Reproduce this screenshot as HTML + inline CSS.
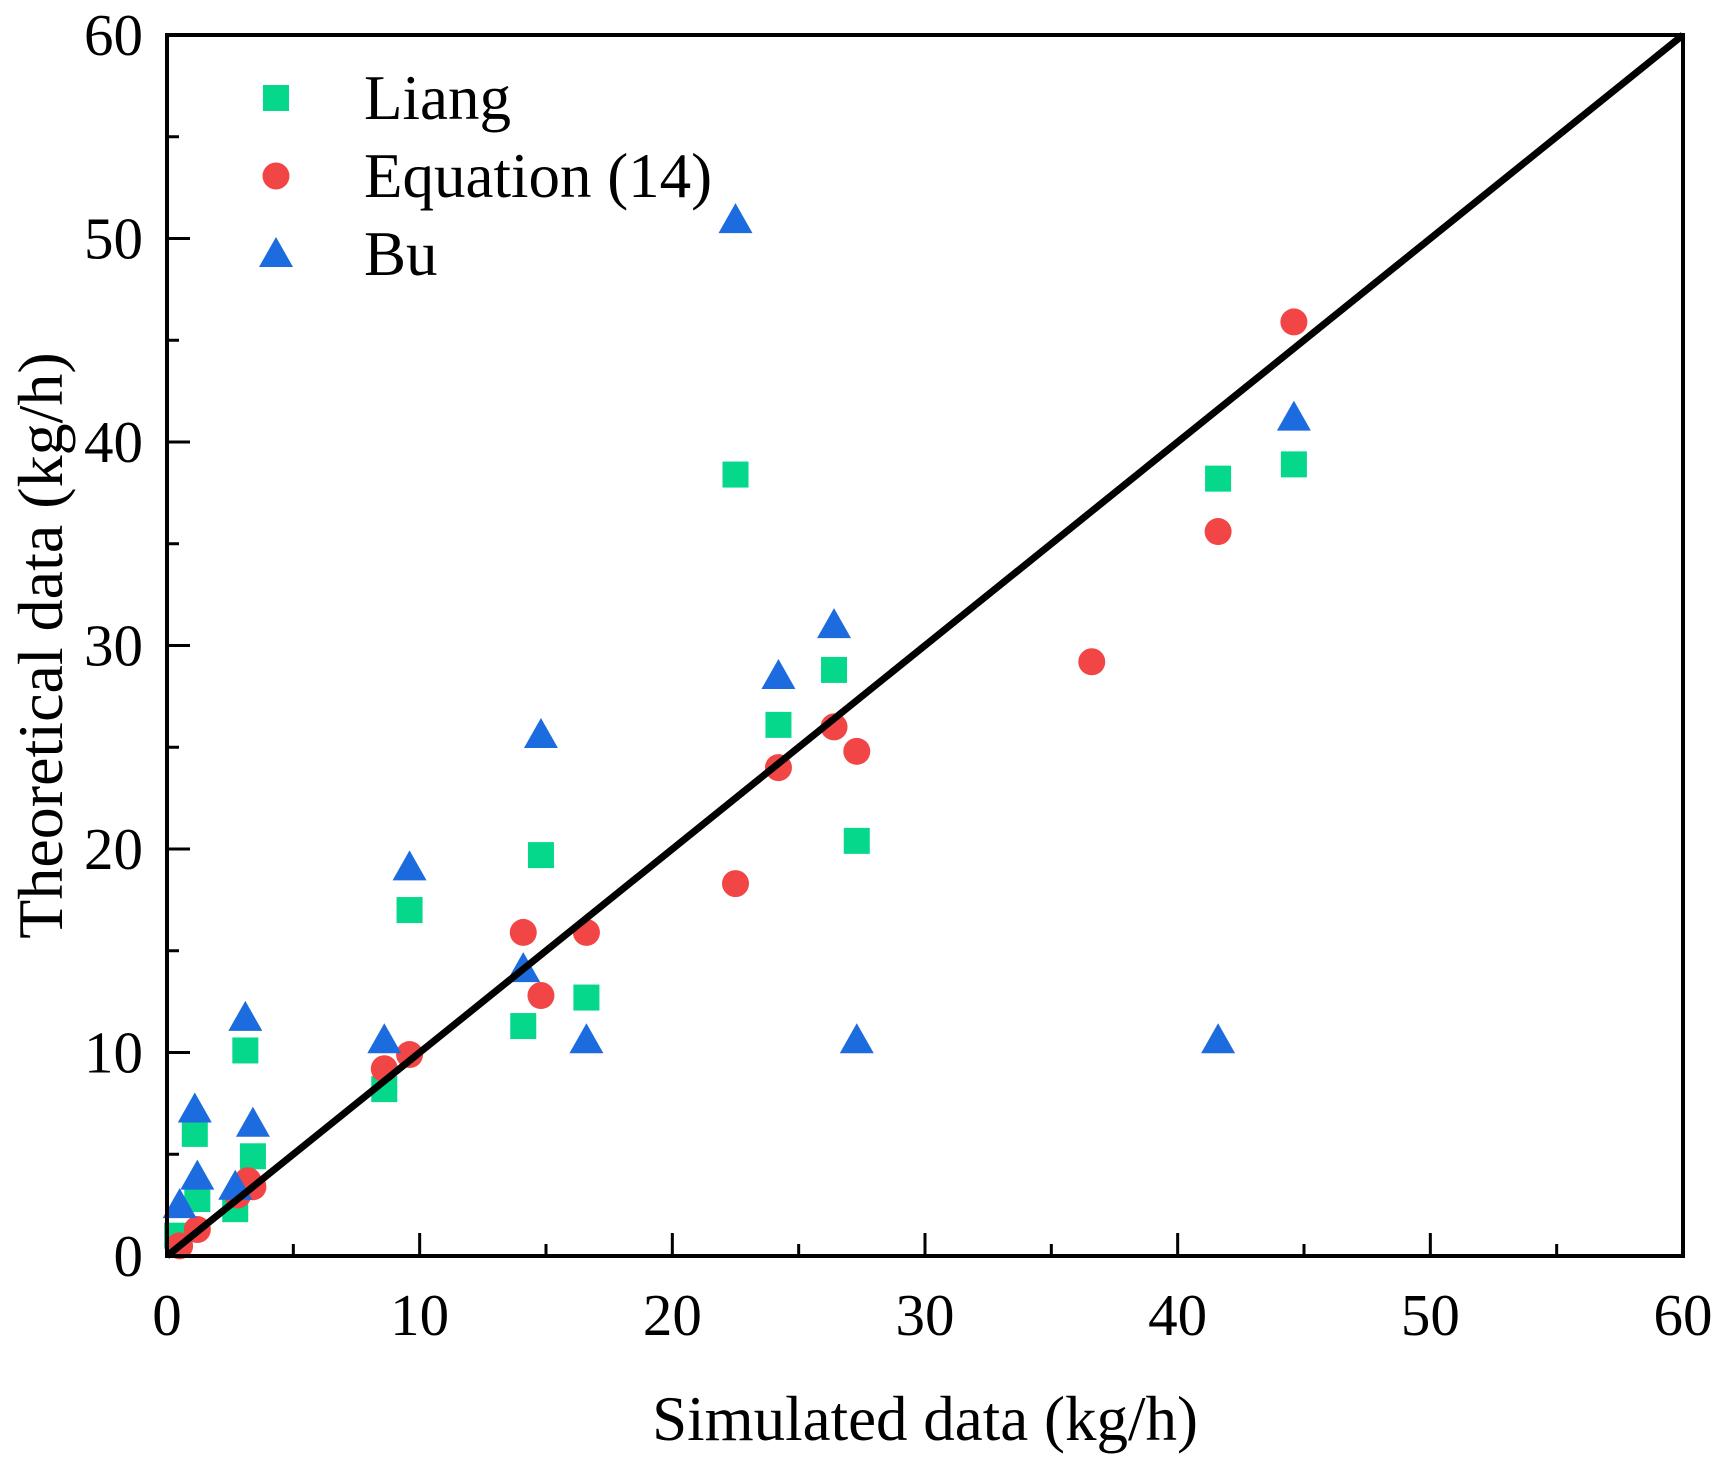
<!DOCTYPE html>
<html><head><meta charset="utf-8"><style>
html,body{margin:0;padding:0;background:#fff;}
svg{display:block;font-family:"Liberation Serif",serif;}
</style></head><body>
<svg id="chart" width="1724" height="1466" viewBox="0 0 1724 1466" xmlns="http://www.w3.org/2000/svg">
<g id="marks"></g>
<g id="axes"></g>
<g id="legend"></g>
</svg>
<script>
const xTicks = [0,10,20,30,40,50,60];
const yTicks = [0,10,20,30,40,50,60];
const liangX = [0.4,1.1,1.2,2.7,3.1,3.4,8.6,9.6,14.1,14.8,16.6,22.5,24.2,26.4,27.3,41.6,44.6];
const liangY = [1.0,6.0,2.8,2.3,10.1,4.9,8.2,17.0,11.3,19.7,12.7,38.4,26.1,28.8,20.4,38.2,38.9];
const eqX = [0.5,1.2,2.8,3.2,3.4,8.6,9.6,14.1,14.8,16.6,22.5,24.2,26.4,27.3,36.6,41.6,44.6];
const eqY = [0.5,1.3,3.0,3.7,3.4,9.2,9.9,15.9,12.8,15.9,18.3,24.0,26.0,24.8,29.2,35.6,45.9];
const buX = [0.5,1.1,1.2,2.7,3.1,3.4,8.6,9.6,14.1,14.8,16.6,22.5,24.2,26.4,27.3,41.6,44.6];
const buY = [2.5,7.2,3.9,3.4,11.7,6.5,10.6,19.1,14.1,25.6,10.6,50.9,28.5,31.0,10.6,10.6,41.2];

const L=167,R=1683,T=35,B=1256;
const sx=v=>L+(v-0)/(60-0)*(R-L);
const sy=v=>B-(v-0)/(60-0)*(B-T);
const NS="http://www.w3.org/2000/svg";
const GREEN="#05d78b",RED="#f24545",BLUE="#1c6ce0";
function mk(tag,parent,attrs){const e=document.createElementNS(NS,tag);for(const k in attrs)e.setAttribute(k,attrs[k]);parent.appendChild(e);return e;}
const marks=document.getElementById('marks'),axes=document.getElementById('axes'),legend=document.getElementById('legend');

function square(p,cx,cy){return mk('rect',p,{x:cx-13,y:cy-13,width:26,height:26,fill:GREEN});}
function circle(p,cx,cy){return mk('circle',p,{cx:cx,cy:cy,r:13.5,fill:RED});}
function tri(p,cx,cy){return mk('polygon',p,{points:`${cx},${cy-17} ${cx+17},${cy+13} ${cx-17},${cy+13}`,fill:BLUE});}

liangX.forEach((v,i)=>{const e=square(marks,sx(v),sy(liangY[i]));

});
eqX.forEach((v,i)=>{const e=circle(marks,sx(v),sy(eqY[i]));

});
buX.forEach((v,i)=>{const e=tri(marks,sx(v),sy(buY[i]));

});

const diag=mk('line',marks,{x1:sx(0),y1:sy(0),x2:sx(60),y2:sy(60),stroke:'#000','stroke-width':7});



const frame=mk('rect',axes,{x:L,y:T,width:R-L,height:B-T,fill:'none',stroke:'#000','stroke-width':4});



for(let v=0;v<=60;v+=5){
  const major=v%10===0,len=major?23:12;
  const tx=mk('line',axes,{x1:sx(v),y1:B,x2:sx(v),y2:B-len,stroke:'#000','stroke-width':3});
  
  
  const ty=mk('line',axes,{x1:L,y1:sy(v),x2:L+len,y2:sy(v),stroke:'#000','stroke-width':3});
  
  
}
xTicks.forEach(v=>{const t=mk('text',axes,{x:sx(v),y:1335,'font-size':59,'text-anchor':'middle'});t.textContent=v;

});
yTicks.forEach(v=>{const t=mk('text',axes,{x:143,y:sy(v)+20,'font-size':59,'text-anchor':'end'});t.textContent=v;

});

const xt=mk('text',axes,{x:925,y:1440,'font-size':63,'text-anchor':'middle'});xt.textContent='Simulated data (kg/h)';


const yt=mk('text',axes,{x:0,y:0,'font-size':64,'text-anchor':'middle',transform:`translate(62,${(T+B)/2}) rotate(-90)`});yt.textContent='Theoretical data (kg/h)';



const legendLabels=['Liang','Equation (14)','Bu'];
const legendY=[98,176,254];
const fns=[square,circle,tri];
legendLabels.forEach((s,i)=>{
  const g=mk('g',legend,{});
  
  
  fns[i](g,276,legendY[i]);
  const t=mk('text',g,{x:364,y:legendY[i]+21,'font-size':63});t.textContent=s;
});
</script>
</body></html>
